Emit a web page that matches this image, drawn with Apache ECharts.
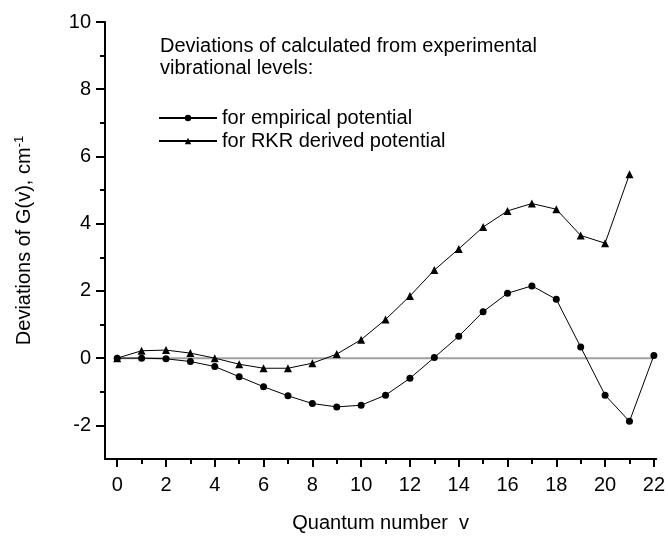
<!DOCTYPE html>
<html><head><meta charset="utf-8">
<script src="https://cdn.jsdelivr.net/npm/echarts@6/dist/echarts.min.js"></script>
<style>html,body{margin:0;padding:0;background:#fff}#c{width:668px;height:538px}</style>
</head><body><div id="c"></div>
<script>
const quantumV = [0,1,2,3,4,5,6,7,8,9,10,11,12,13,14,15,16,17,18,19,20,21,22];
const empirical = [0,0.0,-0.02,-0.1,-0.25,-0.55,-0.85,-1.12,-1.35,-1.45,-1.4,-1.1,-0.6,0.02,0.65,1.38,1.93,2.15,1.75,0.33,-1.1,-1.88,0.08];
const rkrV = [0,1,2,3,4,5,6,7,8,9,10,11,12,13,14,15,16,17,18,19,20,21];
const rkr = [0,0.22,0.24,0.15,0.0,-0.18,-0.3,-0.3,-0.15,0.12,0.55,1.15,1.85,2.62,3.25,3.9,4.38,4.6,4.43,3.65,3.42,5.47];
const xMajorTicks = [0,2,4,6,8,10,12,14,16,18,20,22];
const xMinorTicks = [1,3,5,7,9,11,13,15,17,19,21];
const yMajorTicks = [-2,0,2,4,6,8,10];
const yMinorTicks = [-1,1,3,5,7,9];
const zeroLine = [[0,0],[22,0]];

const font = 'Liberation Sans, Arial, Helvetica, sans-serif';
const FS = 20;
const chart = echarts.init(document.getElementById('c'), null, {renderer:'canvas'});
const axisLine = {show:true, onZero:false, lineStyle:{color:'#000', width:2}};
chart.setOption({
  animation:false,
  backgroundColor:'#fff',
  textStyle:{fontFamily:font},
  grid:{left:105, right:10, top:22, bottom:71, containLabel:false},
  graphic:[{
    type:'text', left:160, top:35,
    style:{text:'Deviations of calculated from experimental\nvibrational levels:', font:FS + 'px ' + font, fill:'#000', lineHeight:22}
  }],
  legend:{
    data:['for empirical potential','for RKR derived potential'],
    orient:'vertical', left:158, top:108, padding:0, itemWidth:58, itemHeight:8, itemGap:3,
    textStyle:{fontSize:FS, color:'#000', fontFamily:font}
  },
  xAxis:[{
    type:'value', min:-0.5, max:22.1,
    axisLine:axisLine,
    axisTick:{show:true, length:8, lineStyle:{color:'#000', width:2}, customValues:xMajorTicks},
    axisLabel:{customValues:xMajorTicks, fontSize:FS, color:'#000', margin:16, fontFamily:font},
    splitLine:{show:false},
    name:'Quantum number  v', nameLocation:'middle', nameGap:54,
    nameTextStyle:{fontSize:FS, color:'#000', fontFamily:font}
  },{
    type:'value', min:-0.5, max:22.1, position:'bottom', gridIndex:0,
    axisLine:{show:false, onZero:false},
    axisTick:{show:true, length:5, lineStyle:{color:'#000', width:2}, customValues:xMinorTicks},
    axisLabel:{show:false}, splitLine:{show:false}
  }],
  yAxis:[{
    type:'value', min:-3, max:10,
    axisLine:axisLine,
    axisTick:{show:true, length:9, lineStyle:{color:'#000', width:2}, customValues:yMajorTicks},
    axisLabel:{customValues:yMajorTicks, fontSize:FS, color:'#000', margin:14, fontFamily:font},
    splitLine:{show:false},
    name:'{a|Deviations of G(v), cm}{s|-1}', nameLocation:'middle', nameGap:70, nameRotate:90,
    nameTextStyle:{rich:{a:{fontSize:FS, color:'#000', fontFamily:font}, s:{fontSize:13, color:'#000', fontFamily:font, verticalAlign:'top', padding:[0,0,9,0]}}}
  },{
    type:'value', min:-3, max:10, position:'left', offset:0,
    axisLine:{show:false, onZero:false},
    axisTick:{show:true, length:5, lineStyle:{color:'#000', width:2}, customValues:yMinorTicks},
    axisLabel:{show:false}, splitLine:{show:false}
  }],
  series:[{
    name:'zero', type:'line', data:zeroLine, symbol:'none', silent:true,
    lineStyle:{color:'#a0a0a0', width:2}, z:1
  },{
    name:'for empirical potential', type:'line',
    data:quantumV.map((v,i)=>[v, empirical[i]]),
    symbol:'circle', symbolSize:7, itemStyle:{color:'#000'},
    lineStyle:{color:'#000', width:1}, z:3
  },{
    name:'for RKR derived potential', type:'line',
    data:rkrV.map((v,i)=>[v, rkr[i]]),
    symbol:'triangle', symbolSize:8, itemStyle:{color:'#000'},
    lineStyle:{color:'#000', width:1}, z:3
  }]
});
</script></body></html>
